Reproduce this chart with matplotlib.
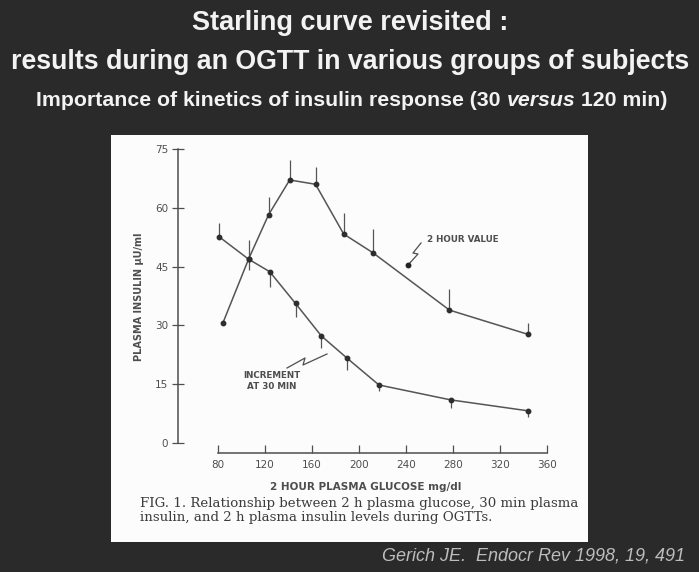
import matplotlib
matplotlib.use("Agg")
import matplotlib.pyplot as plt
from matplotlib.patches import Rectangle
from matplotlib.lines import Line2D

# ---- data -------------------------------------------------------------
# 2 h plasma glucose (mg/dl) and plasma insulin (uU/ml)
glucose_2h = [84, 106, 123, 141, 163, 187, 212, 277, 344]
insulin_2h = [30.5, 46.9, 58.2, 67.1, 66.0, 53.3, 48.5, 33.9, 27.7]
insulin_2h_err_up = [0.0, 5.0, 4.6, 5.1, 4.3, 5.4, 6.0, 5.4, 2.8]

glucose_30 = [81, 106, 124, 146, 168, 190, 217, 278, 344]
insulin_30 = [52.6, 46.9, 43.7, 35.6, 27.3, 21.6, 14.8, 11.0, 8.2]
insulin_30_err_up = [3.6, 0.0, 0.0, 0.0, 0.0, 0.0, 0.0, 0.0, 0.0]
insulin_30_err_dn = [0.0, 2.7, 3.9, 3.4, 3.0, 3.0, 1.5, 2.0, 1.5]

x_ticks = [80, 120, 160, 200, 240, 280, 320, 360]
y_ticks = [0, 15, 30, 45, 60, 75]

title_1 = "Starling curve revisited :"
title_2 = "results during an OGTT in various groups of subjects"
title_3 = ["Importance of kinetics of insulin response (30 ", "versus", " 120 min)"]
x_label = "2 HOUR PLASMA GLUCOSE mg/dl"
y_label = "PLASMA INSULIN \u00b5U/ml"
caption = ["FIG. 1. Relationship between 2 h plasma glucose, 30 min plasma",
           "insulin, and 2 h plasma insulin levels during OGTTs."]
label_2h = "2 HOUR VALUE"
label_30 = "INCREMENT\nAT 30 MIN"
citation = "Gerich JE.  Endocr Rev 1998, 19, 491"

# ---- layout -----------------------------------------------------------
W, H = 699, 572
BG = "#2a2a2a"
INK = "#4e4e4e"


def fx(px):
    return px / W


def fy(py):
    return 1 - py / H


fig = plt.figure(figsize=(W / 100, H / 100), dpi=100, facecolor=BG)

# white panel holding the figure
fig.patches.append(Rectangle((fx(111), fy(542)), fx(588) - fx(111), fy(135) - fy(542),
                             transform=fig.transFigure, facecolor="#fcfcfc",
                             edgecolor="none", zorder=-5))

# titles
title_font = dict(family="Liberation Sans", weight="bold", color="#f3f3f3")
fig.text(fx(350), fy(23), title_1, ha="center", va="center", fontsize=19.5, **title_font)
fig.text(fx(350), fy(62), title_2, ha="center", va="center", fontsize=19.3, **title_font)

renderer = fig.canvas.get_renderer()
parts = []
for i, s in enumerate(title_3):
    t = fig.text(0, fy(100), s, ha="left", va="center", fontsize=15.3,
                 style="italic" if i == 1 else "normal", **title_font)
    parts.append(t)
widths = [p.get_window_extent(renderer).width for p in parts]
x0 = 352 - sum(widths) / 2
for p, w in zip(parts, widths):
    p.set_x(fx(x0))
    x0 += w

# ---- axes -------------------------------------------------------------
# data -> pixel: x 80->218, 360->547 ; y 0->443, 75->149
xlo, xhi = 46, 365
ylo, yhi = -2.55, 77
left_px = 218 + (xlo - 80) * 1.175
right_px = 218 + (xhi - 80) * 1.175
bot_px = 443 - ylo * 3.92
top_px = 443 - yhi * 3.92
ax = fig.add_axes([fx(left_px), fy(bot_px), fx(right_px) - fx(left_px), fy(top_px) - fy(bot_px)])
ax.set_facecolor("none")
ax.set_zorder(2)
ax.set_xlim(xlo, xhi)
ax.set_ylim(ylo, yhi)

for side in ("top", "right"):
    ax.spines[side].set_visible(False)
ax.spines["left"].set_bounds(0, 75)
ax.spines["bottom"].set_bounds(80, 360)
for side in ("left", "bottom"):
    ax.spines[side].set_color(INK)
    ax.spines[side].set_linewidth(1.1)

ax.set_xticks(x_ticks)
ax.set_yticks(y_ticks)
ax.tick_params(axis="x", direction="in", length=6, width=0.9, color=INK,
               labelsize=7.5, labelcolor=INK, pad=5)
ax.tick_params(axis="y", direction="inout", length=8, width=0.9, color=INK,
               labelsize=7.5, labelcolor=INK, pad=3)

ax.set_xlabel(x_label, fontsize=7.5, color=INK, weight="bold", labelpad=9)
ax.set_ylabel(y_label, fontsize=7, color=INK, weight="bold", labelpad=8)

# curves
line_kw = dict(color="#555555", lw=1.1, marker="o", ms=3.2,
               mfc="#2e2e2e", mec="#2e2e2e", zorder=3)
ax.plot(glucose_2h, insulin_2h, **line_kw)
ax.plot(glucose_30, insulin_30, **line_kw)

err_kw = dict(fmt="none", ecolor="#555555", elinewidth=0.9, capsize=0, zorder=2)
ax.errorbar(glucose_2h, insulin_2h, yerr=[[0] * len(insulin_2h), insulin_2h_err_up], **err_kw)
ax.errorbar(glucose_30, insulin_30, yerr=[insulin_30_err_dn, insulin_30_err_up], **err_kw)

# curve labels with lightning-style pointers
lab_kw = dict(fontsize=6.3, color=INK, weight="bold", family="DejaVu Sans")
fig.text(fx(427), fy(239), label_2h, ha="left", va="center", **lab_kw)
fig.text(fx(272), fy(381), label_30, ha="center", va="center", linespacing=1.25, **lab_kw)


def bolt(points, dot=False):
    xs = [fx(p[0]) for p in points]
    ys = [fy(p[1]) for p in points]
    fig.add_artist(Line2D(xs, ys, transform=fig.transFigure, color=INK, lw=0.9))
    if dot:
        fig.add_artist(Line2D([xs[-1]], [ys[-1]], transform=fig.transFigure,
                              marker="o", ms=3.2, color="#222222"))


bolt([(421, 243), (413, 253), (418, 254), (408, 265)], dot=True)
bolt([(287, 368), (305, 358), (303, 365), (327, 354)])

# figure caption
for i, line in enumerate(caption):
    fig.text(fx(140), fy(503 + 14 * i), line, ha="left", va="center",
             fontsize=9.6, color="#3c3c3c", family="DejaVu Serif")

# citation
fig.text(fx(382), fy(556), citation, ha="left", va="center", fontsize=13.0,
         style="italic", color="#bdbdbd", family="Liberation Sans")

fig.savefig("out.png", dpi=100, facecolor=BG)
